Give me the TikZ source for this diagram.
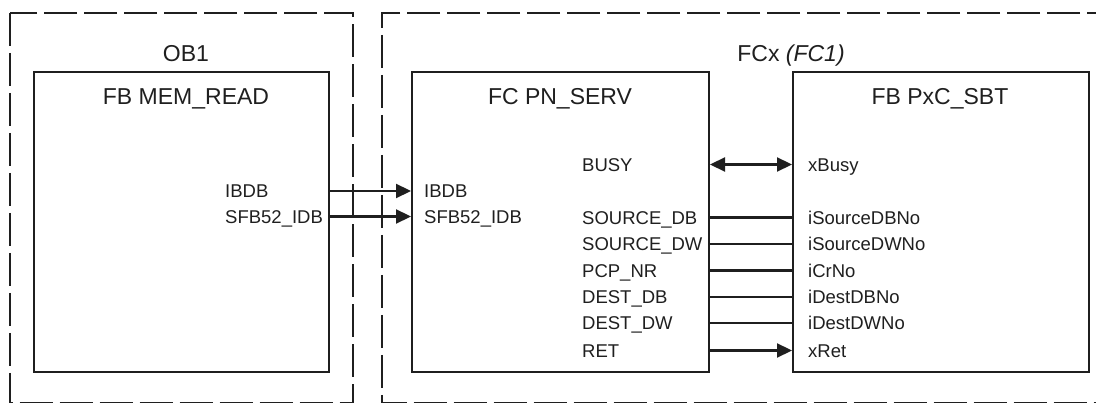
\documentclass[tikz,border=0pt]{standalone}
\usepackage{fontspec}
\setmainfont{Liberation Sans}
\usetikzlibrary{arrows.meta}
\tikzset{
  frame/.style={line width=2pt, draw=black!88, dash pattern=on 33pt off 7pt},
  box/.style={draw=black!88, line width=2pt, anchor=north west, inner sep=0pt},
  ttl/.style={font=\fontsize{23}{24}\selectfont, text=black!88, inner sep=0pt, text height=16.4pt, text depth=0pt},
  lbl/.style={font=\fontsize{18.5}{20}\selectfont, text=black!88, inner sep=0pt, text height=13.3pt, text depth=0pt, anchor=west},
  wire/.style={draw=black!88, line width=2.2pt},
  arr/.style={wire, -{Triangle[length=15pt,width=14pt]}},
  darr/.style={wire, {Triangle[length=15pt,width=14pt]}-{Triangle[length=15pt,width=14pt]}}
}
\begin{document}
\begin{tikzpicture}[x=1pt,y=-1pt]
\useasboundingbox (0,0) rectangle (1096,403);
\clip (0,0) rectangle (1096,403);
\fill[white] (0,0) rectangle (1096,403);
% dashed frames
\draw[frame] (10,13) rectangle (353,403.5);
\draw[frame] (1120,13) -- (382,13) -- (382,403.5) -- (1120,403.5);
% frame titles
\node[ttl] (ob1) at (186,53) {OB1};
\node[ttl] (fcx) at (791,53) {FCx \textit{(FC1)}};
% boxes
\node[box, minimum width=295pt, minimum height=300pt] (mem) at (33,71.5) {};
\node[box, minimum width=297pt, minimum height=300pt] (pn) at (411,71.5) {};
\node[box, minimum width=296pt, minimum height=300pt] (sbt) at (792,71.5) {};
\node[ttl] (memt) at (186,96) {FB MEM\_READ};
\node[ttl] (pnt) at (560,96) {FC PN\_SERV};
\node[ttl] (sbtt) at (940,96) {FB PxC\_SBT};
% MEM_READ outputs
\node[lbl] (mo1) at (225,191) {IBDB};
\node[lbl] (mo2) at (225,216.5) {SFB52\_IDB};
% PN_SERV inputs
\node[lbl] (pi1) at (424,191) {IBDB};
\node[lbl] (pi2) at (424,216.5) {SFB52\_IDB};
% PN_SERV outputs
\node[lbl] (po1) at (582,164.5) {BUSY};
\node[lbl] (po2) at (582,217.5) {SOURCE\_DB};
\node[lbl] (po3) at (582,244) {SOURCE\_DW};
\node[lbl] (po4) at (582,270.5) {PCP\_NR};
\node[lbl] (po5) at (582,297) {DEST\_DB};
\node[lbl] (po6) at (582,323) {DEST\_DW};
\node[lbl] (po7) at (582,350.5) {RET};
% PxC_SBT inputs
\node[lbl] (si1) at (808,164.5) {xBusy};
\node[lbl] (si2) at (808,217.5) {iSourceDBNo};
\node[lbl] (si3) at (808,244) {iSourceDWNo};
\node[lbl] (si4) at (808,270.5) {iCrNo};
\node[lbl] (si5) at (808,297) {iDestDBNo};
\node[lbl] (si6) at (808,323) {iDestDWNo};
\node[lbl] (si7) at (808,350.5) {xRet};
% connectors
\draw[arr] (mem.east |- mo1) -- (pn.west |- pi1);
\draw[arr] (mem.east |- mo2) -- (pn.west |- pi2);
\draw[darr] (pn.east |- po1) -- (sbt.west |- si1);
\draw[wire] (pn.east |- po2) -- (sbt.west |- si2);
\draw[wire] (pn.east |- po3) -- (sbt.west |- si3);
\draw[wire] (pn.east |- po4) -- (sbt.west |- si4);
\draw[wire] (pn.east |- po5) -- (sbt.west |- si5);
\draw[wire] (pn.east |- po6) -- (sbt.west |- si6);
\draw[arr] (pn.east |- po7) -- (sbt.west |- si7);
\end{tikzpicture}
\end{document}
